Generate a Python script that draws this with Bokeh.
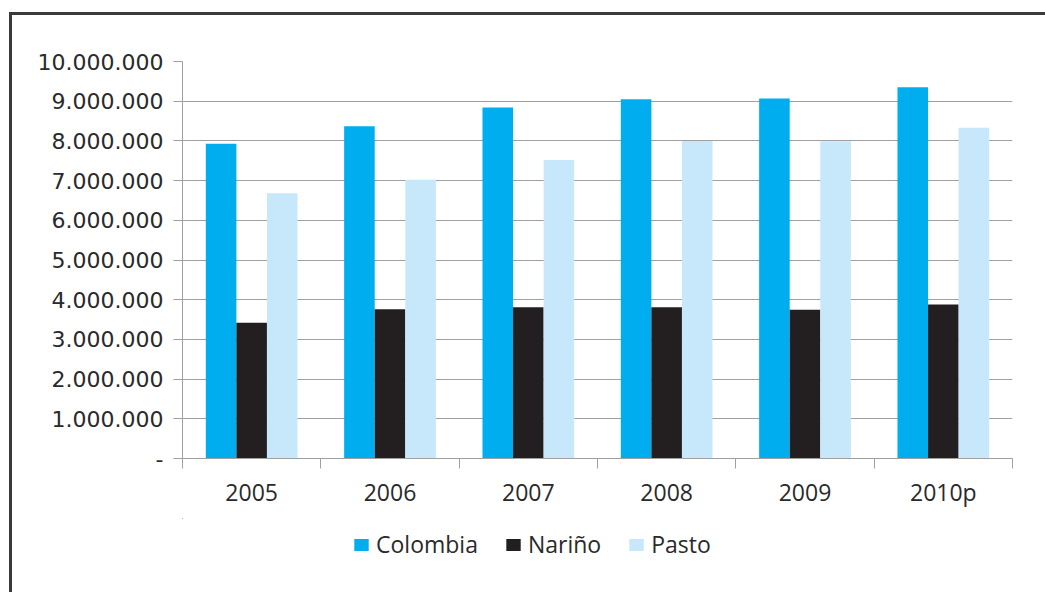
from bokeh.plotting import figure
from bokeh.layouts import column
from bokeh.models import (ColumnDataSource, FixedTicker, LinearAxis, Range1d,
                          Grid, Legend, LegendItem)
from bokeh.transform import dodge
from bokeh.embed import file_html
from bokeh.resources import INLINE

# Population figures by year
years = ["2005", "2006", "2007", "2008", "2009", "2010p"]
colombia = [7930000, 8370000, 8840000, 9050000, 9070000, 9350000]
narino = [3420000, 3760000, 3810000, 3810000, 3750000, 3880000]
pasto = [6680000, 7020000, 7520000, 8000000, 7990000, 8330000]

y_ticks = [0, 1000000, 2000000, 3000000, 4000000, 5000000,
           6000000, 7000000, 8000000, 9000000, 10000000]
y_tick_labels = ["-", "1.000.000", "2.000.000", "3.000.000", "4.000.000",
                 "5.000.000", "6.000.000", "7.000.000", "8.000.000",
                 "9.000.000", "10.000.000"]

series_names = ["Colombia", "Nariño", "Pasto"]
series_colors = ["#00AEEF", "#231F20", "#C7E8FA"]

idx = list(range(len(years)))
source = ColumnDataSource(data=dict(idx=idx, years=years, Colombia=colombia,
                                    Nariño=narino, Pasto=pasto))

TEXT = "#2a2a2a"
AXIS = "#A0A0A0"

p = figure(frame_width=830, frame_height=397,
           x_range=Range1d(-0.5, len(years) - 0.5),
           y_range=Range1d(0, 10000000),
           x_axis_type=None, y_axis_type=None,
           output_backend="svg", toolbar_location=None,
           min_border_left=170, min_border_right=33,
           min_border_top=46, min_border_bottom=60)
p.outline_line_color = None
p.background_fill_color = "white"
p.border_fill_color = "white"

# Y axis with dotted thousands labels
yticker = FixedTicker(ticks=y_ticks)
yaxis = LinearAxis(ticker=yticker,
                   major_label_overrides={t: s for t, s in zip(y_ticks, y_tick_labels)})
yaxis.axis_line_color = AXIS
yaxis.major_tick_line_color = AXIS
yaxis.major_tick_out = 9
yaxis.major_tick_in = 0
yaxis.minor_tick_line_color = None
yaxis.major_label_standoff = 10
yaxis.major_label_text_font = "DejaVu Sans"
yaxis.major_label_text_font_size = "22px"
yaxis.major_label_text_color = TEXT
p.add_layout(yaxis, "left")

# X axis: labels at category centres, tick marks at category boundaries
bounds = [i - 0.5 for i in range(len(years) + 1)]
xaxis = LinearAxis(ticker=FixedTicker(ticks=idx, minor_ticks=bounds),
                   major_label_overrides={i: y for i, y in zip(idx, years)})
xaxis.axis_line_color = AXIS
xaxis.major_tick_line_color = None
xaxis.minor_tick_line_color = AXIS
xaxis.minor_tick_out = 10
xaxis.minor_tick_in = 0
xaxis.major_label_standoff = 7
xaxis.major_label_text_font = "Open Sans"
xaxis.major_label_text_font_size = "23px"
xaxis.major_label_text_color = TEXT
p.add_layout(xaxis, "below")

p.add_layout(Grid(dimension=1, ticker=yticker, grid_line_color=AXIS,
                  grid_line_width=1))

bar_w = 0.221
offsets = [-bar_w, 0.0, bar_w]
for name, color, off in zip(series_names, series_colors, offsets):
    p.vbar(x=dodge("idx", off), top=name, width=bar_w, source=source,
           fill_color=color, line_color=None)

# Legend strip under the chart; its swatch renderers share the bar data but
# sit outside this strip's visible ranges, so only the legend shows.
lf = figure(width=1033, height=74, x_range=Range1d(100, 101), y_range=Range1d(-2, -1),
            x_axis_type=None, y_axis_type=None,
            output_backend="svg", toolbar_location=None,
            min_border=0)
lf.outline_line_color = None
lf.grid.visible = False
items = []
for name, color, off in zip(series_names, series_colors, offsets):
    r = lf.vbar(x=dodge("idx", off), top=name, width=bar_w, source=source,
                fill_color=color, line_color=None)
    items.append(LegendItem(label=name, renderers=[r]))

legend = Legend(items=items, orientation="horizontal", location=(170, 32))
legend.border_line_color = None
legend.background_fill_alpha = 0
legend.label_text_font = "Open Sans"
legend.label_text_font_size = "23px"
legend.label_text_color = TEXT
legend.glyph_width = 18
legend.glyph_height = 15
legend.label_standoff = 6
legend.spacing = 26
legend.padding = 6
legend.margin = 0
lf.add_layout(legend, "center")

layout = column(p, lf, spacing=0)
layout.margin = (12, 0, 0, 9)
layout.styles = {"border-left": "3px solid #3a3a3a", "border-top": "3px solid #3a3a3a"}

open("out.html", "w").write(file_html(layout, INLINE))
